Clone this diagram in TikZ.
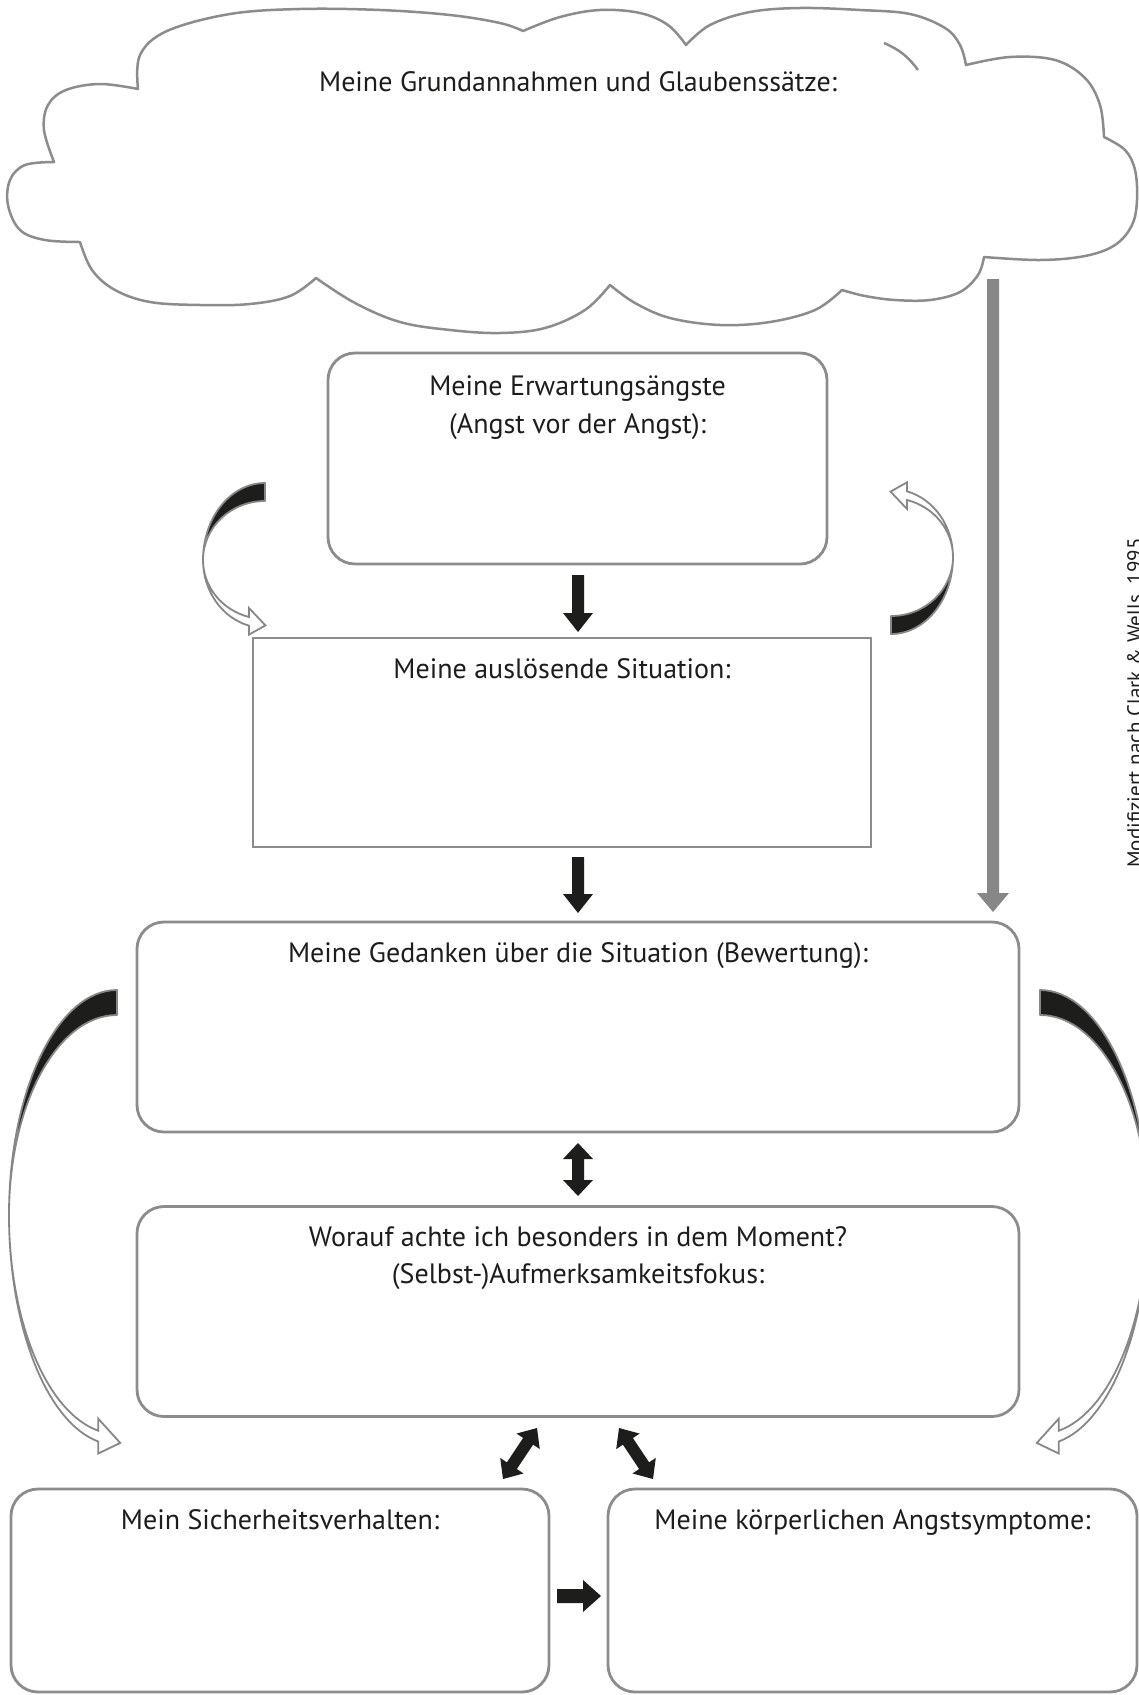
\documentclass[tikz,border=0pt]{standalone}
\usepackage{fontspec}
\setmainfont{PT Sans}
\usetikzlibrary{calc}
\definecolor{boxgray}{RGB}{140,140,140}
\definecolor{inkblack}{RGB}{29,29,27}
\definecolor{arrgray}{RGB}{135,135,135}

% #1 colour, #2 start, #3 end, #4 half shaft, #5 half head, #6 head length
\newcommand\BlockArrow[6]{%
 \coordinate (ba-h) at ($(#3)!#6pt!(#2)$);
 \fill[#1] ($(#2)!#4pt!90:(#3)$) -- ($(ba-h)!#4pt!-90:(#2)$) -- ($(ba-h)!#5pt!-90:(#2)$) -- (#3)
   -- ($(ba-h)!#5pt!90:(#2)$) -- ($(ba-h)!#4pt!90:(#2)$) -- ($(#2)!#4pt!-90:(#3)$) -- cycle;}
\newcommand\DoubleArrow[6]{%
 \coordinate (da-a) at ($(#2)!#6pt!(#3)$);
 \coordinate (da-b) at ($(#3)!#6pt!(#2)$);
 \fill[#1] (#2) -- ($(da-a)!#5pt!90:(#3)$) -- ($(da-a)!#4pt!90:(#3)$) -- ($(da-b)!#4pt!-90:(#2)$)
   -- ($(da-b)!#5pt!-90:(#2)$) -- (#3) -- ($(da-b)!#5pt!90:(#2)$) -- ($(da-b)!#4pt!90:(#2)$)
   -- ($(da-a)!#4pt!-90:(#3)$) -- ($(da-a)!#5pt!-90:(#3)$) -- cycle;}
% curved arrow, uses \Rx \RyU \Th \RyL \RyLi \Ang \Hl \Hw
\newcommand\CurvArrow[1]{%
 \begin{scope}[#1]
  \filldraw[crescent] (0,{-\RyU}) arc[start angle=270, end angle=180, x radius=\Rx, y radius=\RyU]
    arc[start angle=180, end angle=270, x radius=\Rx, y radius={\RyU-\Th}] -- cycle;
  \coordinate (ca-o) at ({\Rx*cos(\Ang)},{\RyL*sin(\Ang)});
  \coordinate (ca-i) at ({\Rx*cos(\Ang)},{\RyLi*sin(\Ang)});
  \coordinate (ca-o2) at ({\Rx*cos(\Ang-3)},{\RyL*sin(\Ang-3)});
  \coordinate (ca-i2) at ({\Rx*cos(\Ang-3)},{\RyLi*sin(\Ang-3)});
  \coordinate (ca-m) at ($(ca-o)!0.5!(ca-i)$);
  \coordinate (ca-m2) at ($(ca-o2)!0.5!(ca-i2)$);
  \coordinate (ca-tip) at ($(ca-m)!\Hl pt!(ca-m2)$);
  \filldraw[band] ({-\Rx},0) arc[start angle=180, end angle=\Ang, x radius=\Rx, y radius=\RyL]
    -- ($(ca-o)!\Hw pt!180:(ca-i)$) -- (ca-tip) -- ($(ca-i)!\Hw pt!180:(ca-o)$) -- (ca-i)
    arc[start angle=\Ang, end angle=180, x radius=\Rx, y radius=\RyLi] -- cycle;
 \end{scope}}

\begin{document}
\begin{tikzpicture}[x=1pt,y=-1pt,
  rbox/.style={draw=boxgray, line width=2.8pt, rounded corners=27pt, fill=white, inner sep=0pt},
  sbox/.style={draw=boxgray, line width=2.8pt, fill=white, inner sep=0pt},
  lbl/.style={anchor=base, inner sep=0pt, text=inkblack, font=\fontsize{28}{34}\selectfont},
  crescent/.style={fill=inkblack, draw=arrgray, line width=1.8pt, line join=round},
  band/.style={fill=white, draw=arrgray, line width=1.8pt, line join=miter},
  cloudline/.style={draw=boxgray, line width=2.5pt, fill=white, line join=round}]

\fill[white] (0,0) rectangle (1139,1695);
\useasboundingbox (0,0) rectangle (1139,1695);

% cloud
\draw[cloudline]
  plot[smooth, tension=0.6] coordinates {(138,89) (140,55) (167,31) (230,14) (300,9) (380,10) (450,15) (500,23) (523,31)}
  -- plot[smooth, tension=0.6] coordinates {(523,31) (560,17) (600,10) (640,13) (668,25) (686,45)}
  -- plot[smooth, tension=0.6] coordinates {(686,45) (710,25) (750,12) (800,8) (860,10) (910,14) (945,28) (960,45) (966,65)}
  -- plot[smooth, tension=0.6] coordinates {(966,65) (1010,57) (1055,60) (1085,78) (1100,105) (1104,137)}
  -- plot[smooth, tension=0.6] coordinates {(1104,137) (1125,150) (1135,170) (1137,200) (1132,225) (1115,245) (1085,256) (1040,260) (984,257)}
  -- plot[smooth, tension=0.6] coordinates {(984,257) (978,275) (960,292) (930,300) (895,300) (865,296) (842,290)}
  -- plot[smooth, tension=0.6] coordinates {(842,290) (815,310) (770,322) (720,325) (670,318) (635,303) (610,285)}
  -- plot[smooth, tension=0.6] coordinates {(610,285) (585,310) (545,328) (500,333) (450,330) (400,322) (355,303) (316,278)}
  -- plot[smooth, tension=0.6] coordinates {(316,278) (290,296) (250,304) (200,305) (150,302) (115,290) (92,270) (80,242)}
  -- plot[smooth, tension=0.6] coordinates {(80,242) (45,240) (20,230) (8,205) (10,180) (25,165) (54,162)}
  -- plot[smooth, tension=0.6] coordinates {(54,162) (44,130) (48,105) (66,90) (100,84) (138,89)}
  -- cycle;
\draw[boxgray, line width=2.5pt] (884,43) to[bend left=15] (918,70);
\node[lbl] (cloudtxt) at (578,91) {Meine Grundannahmen und Glaubenssätze:};

% boxes
\node[rbox, minimum width=499pt, minimum height=211pt] (erw) at (577.5,458.5) {};
\node[sbox, minimum width=618pt, minimum height=209pt] (sit) at (562,742.5) {};
\node[rbox, minimum width=882pt, minimum height=210pt] (ged) at (578,1027) {};
\node[rbox, minimum width=882pt, minimum height=210pt] (wor) at (578,1311.5) {};
\node[rbox, minimum width=538pt, minimum height=203pt] (sich) at (280,1590.5) {};
\node[rbox, minimum width=529pt, minimum height=203pt] (koer) at (872.5,1590.5) {};

\node[lbl] (erw1) at (577.5,395) {Meine Erwartungsängste};
\node[lbl] (erw2) at (577.5,433) {(Angst vor der Angst):};
\node[lbl] (sittxt) at (562,678) {Meine auslösende Situation:};
\node[lbl] (gedtxt) at (578,962) {Meine Gedanken über die Situation (Bewertung):};
\node[lbl] (wor1) at (578,1246) {Worauf achte ich besonders in dem Moment?};
\node[lbl] (wor2) at (578,1283) {(Selbst-)Aufmerksamkeitsfokus:};
\node[lbl] (sichtxt) at (280,1529) {Mein Sicherheitsverhalten:};
\node[lbl] (koertxt) at (872.5,1529) {Meine körperlichen Angstsymptome:};

\node[rotate=90, anchor=base, inner sep=0pt, text=inkblack, font=\fontsize{21}{25}\selectfont] (credit) at (1142,703) {Modifiziert nach Clark \& Wells, 1995};

% straight arrows
\coordinate (g1) at (993,279); \coordinate (g2) at (993,912);
\BlockArrow{arrgray}{g1}{g2}{6}{16}{19}
\coordinate (a1s) at (578,575); \coordinate (a1e) at (578,632);
\BlockArrow{inkblack}{a1s}{a1e}{6}{15}{19}
\coordinate (a2s) at (578,857); \coordinate (a2e) at (578,913);
\BlockArrow{inkblack}{a2s}{a2e}{6}{15}{19}
\coordinate (a3s) at (578,1143); \coordinate (a3e) at (578,1196);
\DoubleArrow{inkblack}{a3s}{a3e}{6}{15}{16}
\coordinate (a4s) at (537,1428); \coordinate (a4e) at (503,1479);
\DoubleArrow{inkblack}{a4s}{a4e}{6}{14}{16}
\coordinate (a5s) at (619,1428); \coordinate (a5e) at (653,1479);
\DoubleArrow{inkblack}{a5s}{a5e}{6}{14}{16}
\coordinate (a6s) at (557,1596); \coordinate (a6e) at (601,1596);
\BlockArrow{inkblack}{a6s}{a6e}{7}{16}{18}

% curved arrows
\def\Rx{62}\def\RyU{77}\def\Th{18}\def\RyL{68}\def\RyLi{59}\def\Ang{105}\def\Hl{17}\def\Hw{9}
\CurvArrow{shift={(265,560)}}
\CurvArrow{shift={(891,557)}, xscale=-1, yscale=-1}
\def\Rx{108}\def\RyU{225}\def\Th{25}\def\RyL{230}\def\RyLi{219}\def\Ang{100}\def\Hl{23}\def\Hw{12}
\CurvArrow{shift={(117,1215)}}
\CurvArrow{shift={(1040,1215)}, xscale=-1}
\end{tikzpicture}
\end{document}
